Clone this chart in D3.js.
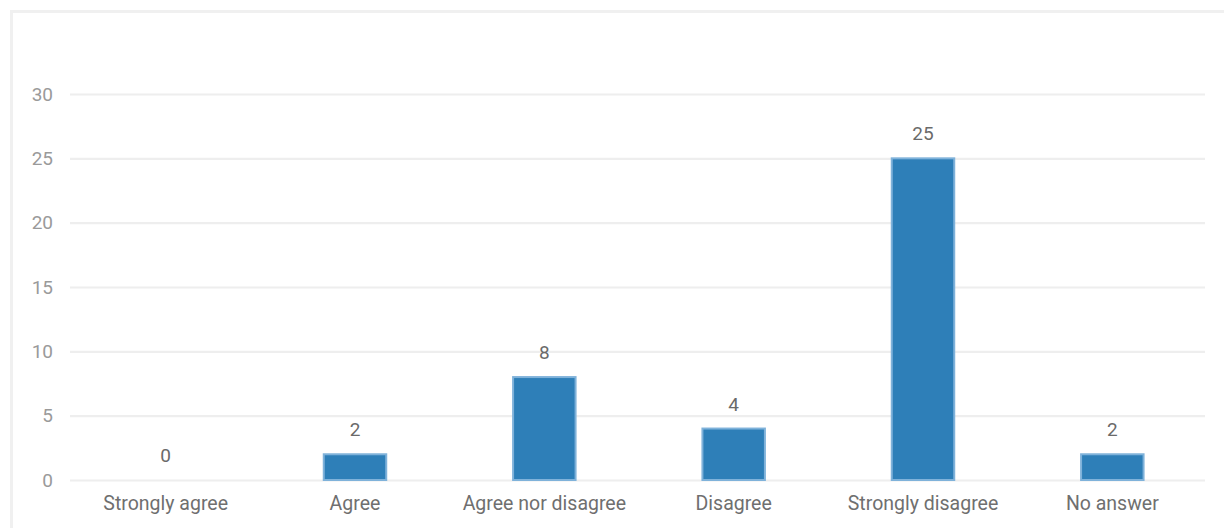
<!DOCTYPE html>
<html><head><meta charset="utf-8">
<script src="https://cdn.jsdelivr.net/npm/d3@7"></script>
<style>html,body{margin:0;padding:0;background:#fff;overflow:hidden}svg{display:block}</style>
</head><body>
<svg id="chart" width="1224" height="528"></svg>
<script>
const categories = ["Strongly agree","Agree","Agree nor disagree","Disagree","Strongly disagree","No answer"];
const values = [0,2,8,4,25,2];
const yTicks = [0,5,10,15,20,25,30];

const svg = d3.select("#chart");
const font = "Roboto, 'Noto Sans', sans-serif";

// card frame
svg.append("rect").attr("x",11.5).attr("y",11.5).attr("width",1400).attr("height",700)
  .attr("fill","#fff").attr("stroke","#f0f0f0").attr("stroke-width",3);

const x = d3.scaleBand().domain(categories).range([71,1207]).paddingInner(0.67).paddingOuter(0.335);
const y = d3.scaleLinear().domain([0,30]).range([480,94]);

// grid
const grid = svg.append("g").attr("transform","translate(70,0)")
  .call(d3.axisLeft(y).tickValues(yTicks).tickSize(-1135).tickFormat(""));
grid.select(".domain").remove();
grid.selectAll(".tick line").attr("stroke","#eeeeee").attr("stroke-width",2.2);

// y labels
const ya = svg.append("g").attr("transform","translate(53,0)")
  .call(d3.axisLeft(y).tickValues(yTicks).tickSize(0).tickPadding(0));
ya.select(".domain").remove();
ya.selectAll("text").attr("fill","#9a9a9a").style("font-family",font).style("font-size","19px");

// bars
svg.append("g").selectAll("rect").data(values).join("rect")
  .attr("x",(d,i)=>x(categories[i]))
  .attr("y",d=>y(d))
  .attr("width",x.bandwidth())
  .attr("height",d=>y(0)-y(d))
  .attr("fill",d=>d>0?"#2e7fb8":"none")
  .attr("stroke",d=>d>0?"#7fb2da":"none")
  .attr("stroke-width",2);

// value labels
svg.append("g").selectAll("text").data(values).join("text")
  .attr("x",(d,i)=>x(categories[i])+x.bandwidth()/2)
  .attr("y",d=>y(d)-18)
  .attr("text-anchor","middle")
  .attr("fill","#6a6a6a").style("font-family",font).style("font-size","19px")
  .text(d=>d);

// x labels
const xa = svg.append("g").attr("transform","translate(0,480)")
  .call(d3.axisBottom(x).tickSize(0).tickPadding(16));
xa.select(".domain").remove();
xa.selectAll("text").attr("fill","#6f6f6f").style("font-family",font).style("font-size","19.5px");
</script>
</body></html>
